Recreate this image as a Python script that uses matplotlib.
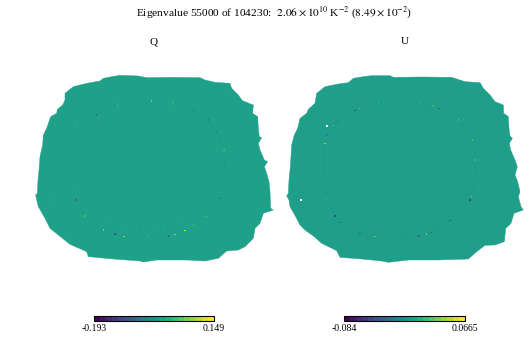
import numpy as np
import matplotlib
matplotlib.use('Agg')
import matplotlib.pyplot as plt
from matplotlib.colors import ListedColormap, Normalize
from matplotlib.colorbar import ColorbarBase

plt.rcParams['font.family'] = ['Liberation Serif', 'DejaVu Serif']
plt.rcParams['mathtext.fontset'] = 'stix'

title = r'Eigenvalue 55000 of 104230:  $2.06 \times 10^{10}$ K$^{-2}$ ($8.49 \times 10^{-2}$)'
names = ['Q', 'U']
vmin_q, vmax_q = -0.193, 0.149
vmin_u, vmax_u = -0.084, 0.0665
ticks_q = ['-0.193', '0.149']
ticks_u = ['-0.084', '0.0665']

# sky patch outlines
edge_q_x = [300, 310, 335, 360, 415, 440, 520, 600, 615, 645, 690, 695, 715, 727, 760, 758, 773, 775, 778, 785,
            775, 780, 793, 803, 793, 800, 807, 810, 812, 820, 790, 780, 765, 760, 735, 715, 680, 655,
            615, 560, 470, 430, 420, 340, 265, 260, 210, 175, 150, 135, 115, 110, 107, 112, 114, 117, 120, 128,
            130, 140, 152, 170, 172, 188, 195, 195, 220, 260]
edge_q_y = [63, 55, 50, 46, 48, 53, 52, 53, 60, 67, 70, 85, 105, 122, 135, 160, 170, 205, 230, 233,
            250, 270, 300, 305, 320, 340, 365, 395, 445, 450, 460, 490, 505, 535, 560, 570, 573, 595,
            603, 600, 600, 606, 603, 597, 590, 575, 553, 525, 505, 475, 440, 420, 405, 400, 360, 330, 290, 255,
            225, 205, 170, 160, 148, 135, 120, 100, 80, 70]
edge_u_x = [265, 295, 320, 375, 385, 470, 560, 600, 645, 655, 675, 690, 715, 716, 730, 732, 735, 742, 733, 737,
            750, 757, 750, 758, 765, 760, 768, 775, 747, 738, 722, 718, 690, 660, 635, 610, 520, 430, 370, 350,
            290, 225, 215, 170, 145, 120, 105, 92, 75, 72, 65, 70, 72, 75, 78, 80, 88, 98, 105, 125,
            130, 150, 155, 180, 220, 250]
edge_u_y = [55, 50, 47, 47, 52, 51, 52, 65, 68, 85, 105, 125, 135, 160, 170, 205, 228, 235, 250, 270,
            300, 320, 345, 365, 395, 410, 440, 450, 460, 490, 505, 545, 555, 556, 575, 597, 600, 600, 607, 603,
            597, 592, 572, 550, 528, 510, 495, 470, 440, 420, 408, 400, 360, 330, 290, 255, 225, 205, 175, 160,
            148, 130, 100, 80, 72, 68]

# faint inner ring
ring_q_x = [352, 400, 455, 517, 580, 625, 650, 672, 675, 668, 660, 618, 580, 525, 440, 372, 310, 255, 228, 220, 218, 222, 232, 250, 290]
ring_q_y = [130, 124, 123, 127, 150, 180, 215, 270, 340, 398, 420, 470, 495, 523, 532, 530, 510, 468, 420, 378, 325, 270, 228, 190, 165]
ring_u_x = [340, 435, 465, 522, 580, 622, 630, 632, 620, 615, 555, 500, 460, 400, 330, 285, 225, 210, 185, 175, 176, 180, 185, 215, 283]
ring_u_y = [127, 127, 128, 145, 180, 240, 300, 350, 410, 420, 482, 517, 528, 532, 530, 520, 487, 468, 415, 358, 300, 250, 225, 185, 145]

# brightest and darkest pixels
spot_q_x = [228, 152, 517, 455, 352, 290, 250, 232, 218, 220, 228, 255, 310, 372, 345, 505, 525, 555, 580, 618, 660, 665, 672, 650, 625, 580, 395, 445]
spot_q_y = [197, 420, 127, 123, 132, 165, 190, 228, 325, 378, 420, 468, 510, 530, 522, 528, 523, 512, 495, 470, 415, 398, 270, 215, 180, 150, 125, 528]
spot_q_v = [0.03, 0.03, 0.149, 0.09, 0.09, -0.09, 0.07, 0.06, 0.05, 0.05, -0.08, 0.05, 0.1, 0.14, -0.12, -0.11, 0.13, 0.12, 0.06, 0.06, -0.09, 0.05, 0.05, -0.1, -0.08, -0.07, 0.04, 0.04]
spot_u_x = [340, 283, 270, 215, 205, 180, 185, 175, 185, 210, 225, 285, 330, 460, 485, 500, 555, 615, 620, 630, 622, 580, 522, 465, 505, 435]
spot_u_y = [127, 145, 152, 185, 197, 250, 225, 358, 415, 468, 487, 520, 530, 528, 522, 517, 482, 420, 410, 300, 240, 180, 145, 128, 138, 127]
spot_u_v = [0.06, 0.05, -0.05, -0.03, 0.06, 0.05, -0.05, 0.02, 0.035, -0.06, -0.05, -0.05, 0.0665, -0.06, 0.045, -0.05, -0.05, -0.06, 0.06, 0.02, 0.03, 0.035, -0.05, 0.03, 0.03, 0.02]
hole_u_x = [185, 108]
hole_u_y = [197, 420]

# vertical streaks inside the ring, near top and bottom
streak_q_x = [350, 385, 420, 460, 510, 540, 320, 350, 380, 420, 465, 500, 540, 570]
streak_q_top = [130, 125, 124, 124, 128, 133, 480, 490, 495, 490, 490, 485, 480, 475]
streak_q_bot = [155, 150, 145, 150, 155, 150, 515, 525, 530, 530, 530, 525, 520, 505]
streak_q_v = [0.012, -0.01, 0.01, -0.01, 0.012, -0.01, 0.012, -0.012, 0.012, -0.01, 0.012, -0.012, 0.012, -0.01]
streak_u_x = [340, 390, 440, 490, 290, 330, 370, 420, 470, 510]
streak_u_top = [127, 128, 127, 132, 490, 495, 495, 495, 490, 490]
streak_u_bot = [160, 150, 150, 150, 522, 530, 532, 532, 528, 515]
streak_u_v = [0.006, -0.005, 0.005, -0.005, 0.006, -0.006, 0.006, -0.005, 0.006, -0.005]


def draw_map(box, xmax, edge_x, edge_y, ring_x, ring_y, sx, sy, sv, st, sb, sc, vmin, vmax):
    x0, y0, w, h = box
    ax = fig.add_axes([x0 / 531, 1 - (y0 + h) / 340, w / 531, h / 340])
    ax.set_xlim(0, xmax)
    ax.set_ylim(630, 0)
    ax.axis('off')
    ax.patch.set_alpha(0)
    norm = Normalize(vmin, vmax)
    ax.fill(edge_x, edge_y, color=plt.cm.viridis(norm(0)), lw=0.3, clip_on=False)
    ax.vlines(sc[0], st, sb, colors=plt.cm.viridis(norm(np.array(sc[1]))), lw=0.7, alpha=0.5)
    ax.plot(ring_x + ring_x[:1], ring_y + ring_y[:1], color=plt.cm.viridis(norm(vmin * 0.08)), lw=0.5, alpha=0.45)
    ax.scatter(sx, sy, c=sv, cmap='viridis', norm=norm, s=0.8, marker='s', lw=0)
    return ax


def draw_bar(x0, w, vmin, vmax, labels):
    cax = fig.add_axes([x0 / 531, 1 - 321 / 340, w / 531, 5 / 340])
    cmap = ListedColormap(plt.cm.viridis(np.linspace(0, 1, 20)))
    cb = ColorbarBase(cax, cmap=cmap, norm=Normalize(vmin, vmax), orientation='horizontal')
    cb.set_ticks([vmin, vmax])
    cb.set_ticklabels(labels, fontsize=7)
    cb.ax.tick_params(length=0, pad=2)
    cb.outline.set_linewidth(0.8)


fig = plt.figure(figsize=(5.31, 3.4), dpi=100)
fig.text(274 / 531, 1 - 12 / 340, title, ha='center', va='center', fontsize=8.2)
fig.text(154 / 531, 1 - 44 / 340, names[0], ha='center', va='baseline', fontsize=8)
fig.text(405 / 531, 1 - 44 / 340, names[1], ha='center', va='baseline', fontsize=8)

draw_map((0, 60, 270, 210), 810, edge_q_x, edge_q_y, ring_q_x, ring_q_y, spot_q_x, spot_q_y, spot_q_v,
         streak_q_top, streak_q_bot, (streak_q_x, streak_q_v), vmin_q, vmax_q)
ax_u = draw_map((265, 60, 266, 210), 798, edge_u_x, edge_u_y, ring_u_x, ring_u_y, spot_u_x, spot_u_y, spot_u_v,
                streak_u_top, streak_u_bot, (streak_u_x, streak_u_v), vmin_u, vmax_u)
ax_u.scatter(hole_u_x, hole_u_y, c='white', s=0.6, marker='s', lw=0)

draw_bar(94, 120, vmin_q, vmax_q, ticks_q)
draw_bar(344, 121, vmin_u, vmax_u, ticks_u)

fig.savefig('out.png', dpi=100)
